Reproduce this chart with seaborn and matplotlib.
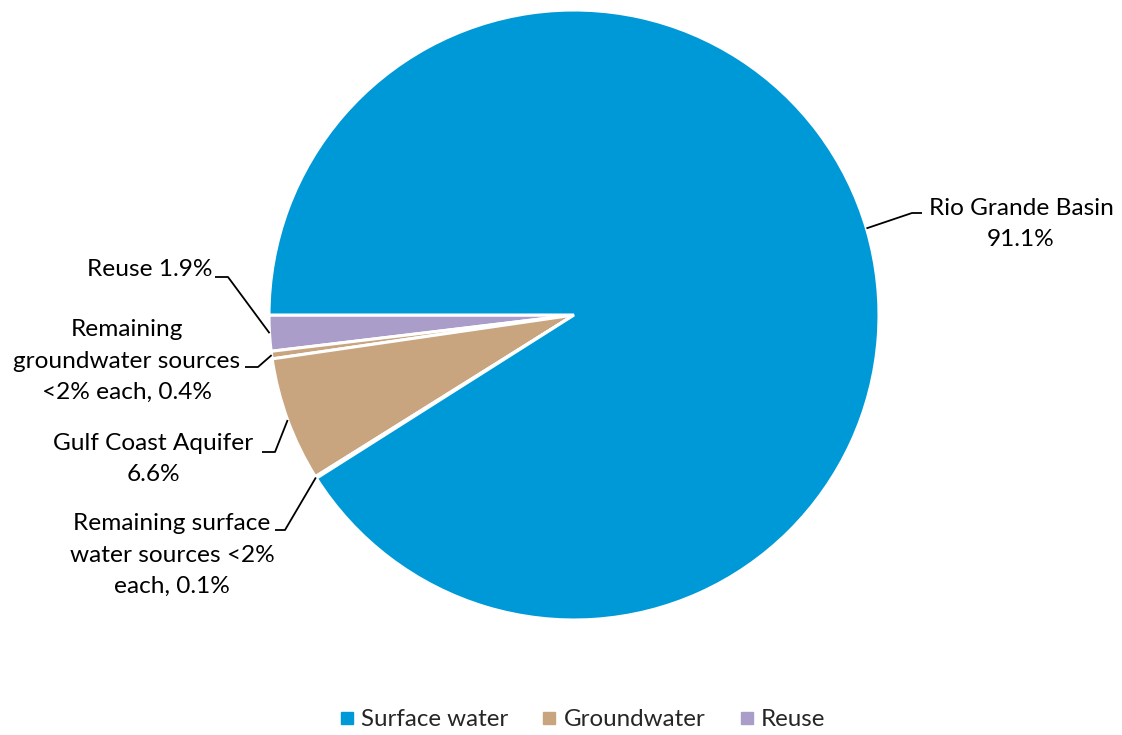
import numpy as np
import matplotlib
matplotlib.use("Agg")
import matplotlib.pyplot as plt
import seaborn as sns
from matplotlib.lines import Line2D

# ---- data ----
labels = ["Reuse 1.9%",
          "Remaining\ngroundwater sources\n<2% each, 0.4%",
          "Gulf Coast Aquifer\n6.6%",
          "Remaining surface\nwater sources <2%\neach, 0.1%",
          "Rio Grande Basin\n91.1%"]
values = [1.9, 0.4, 6.6, 0.1, 91.1]
groups = ["Reuse", "Groundwater", "Groundwater", "Surface water", "Surface water"]
legend_names = ["Surface water", "Groundwater", "Reuse"]
group_colors = {"Surface water": "#0099D8", "Groundwater": "#C8A57E", "Reuse": "#AA9DCA"}

sns.set_theme(style="white")
plt.rcParams["font.family"] = ["Lato", "DejaVu Sans"]

W, H = 1122, 735
fig = plt.figure(figsize=(W / 100, H / 100), dpi=100)
ax = fig.add_axes([0, 0, 1, 1])
cx, cy, R = 574, 315, 305

def p2d(px, py):
    return (px - cx) / R, (cy - py) / R

colors = [group_colors[g] for g in groups]
wedges, _ = ax.pie(values, colors=colors, startangle=180, counterclock=True,
                   radius=1.0, center=(0, 0), frame=True,
                   wedgeprops=dict(edgecolor="white", linewidth=2.2))
ax.set_xlim(-cx / R, (W - cx) / R)
ax.set_ylim(-(H - cy) / R, cy / R)
ax.axis("off")

layout = [
    dict(tx=150, ty=270, elbow=(228, 277), hend=(215, 277), ang=None),
    dict(tx=127, ty=361, elbow=(258, 367), hend=(245, 367), ang=None),
    dict(tx=153, ty=459, elbow=(275, 452), hend=(262, 452), ang=None),
    dict(tx=172, ty=555, elbow=(285, 530), hend=(275, 530), ang=None),
    dict(tx=1021, ty=224, elbow=(912, 213), hend=(922, 213), ang=16.5),
]
fs = 17.6
for w, lab, lay in zip(wedges, labels, layout):
    ang = lay["ang"] if lay["ang"] is not None else (w.theta1 + w.theta2) / 2
    ax_, ay_ = np.cos(np.radians(ang)), np.sin(np.radians(ang))
    ex, ey = p2d(*lay["elbow"])
    hx, hy = p2d(*lay["hend"])
    ax.plot([ax_, ex, hx], [ay_, ey, hy], color="black", lw=1.3, solid_capstyle="butt")
    tx, ty = p2d(lay["tx"], lay["ty"])
    ax.text(tx, ty, lab, ha="center", va="center", fontsize=fs,
            linespacing=1.6, color="black")

handles = [Line2D([0], [0], marker="s", linestyle="none", markersize=8,
                  markerfacecolor=group_colors[n], markeredgecolor=group_colors[n])
           for n in legend_names]
fig.legend(handles, legend_names, loc="center", bbox_to_anchor=(580 / W, 1 - 720 / H),
           ncol=3, frameon=False, fontsize=17.4, handletextpad=0.1, columnspacing=1.2,
           handlelength=1.0)

fig.savefig("out.png", dpi=100)
